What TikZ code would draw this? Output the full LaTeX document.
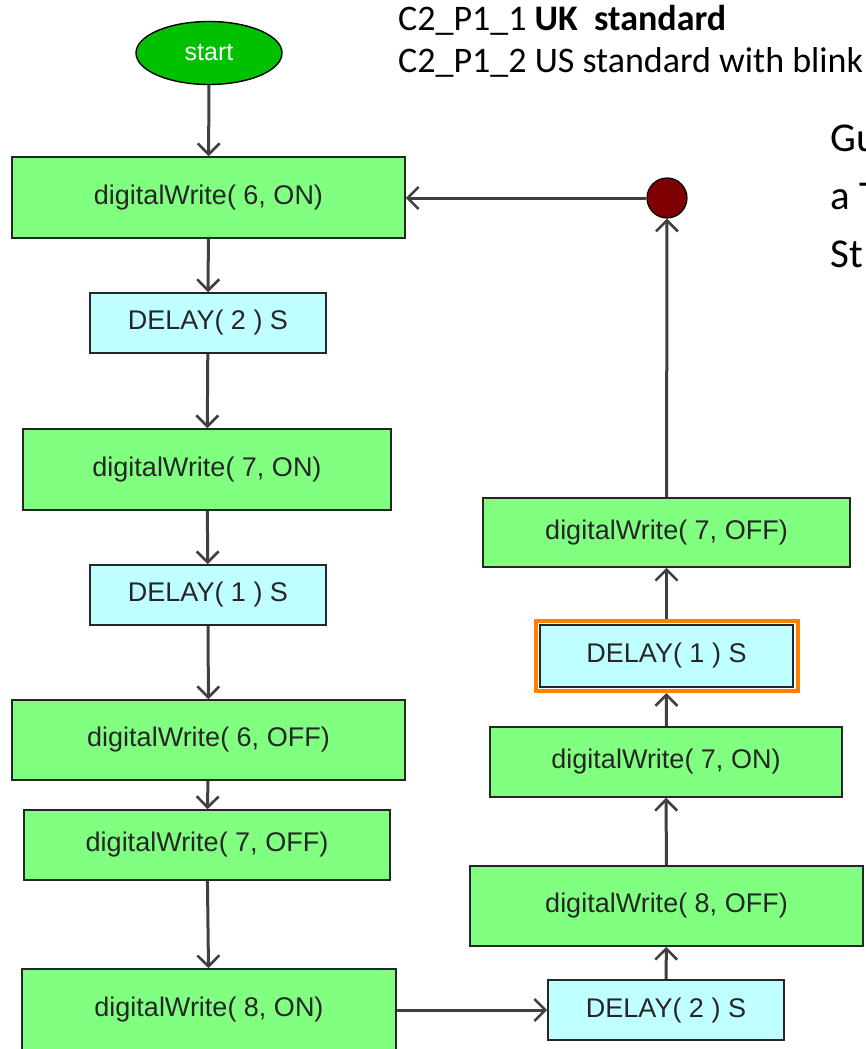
\documentclass[tikz,border=0pt]{standalone}
\usepackage{fontspec}
\setmainfont{Liberation Sans}
\newfontfamily\notefont{Carlito}
\usetikzlibrary{arrows.meta,shapes.geometric}

\definecolor{actgreen}{HTML}{80FF80}
\definecolor{delaycyan}{HTML}{C0FFFF}
\definecolor{startgreen}{HTML}{00C000}
\definecolor{joinred}{HTML}{7F0000}
\definecolor{wire}{HTML}{404040}
\definecolor{selorange}{HTML}{FF8000}

\tikzset{
  boxtext/.style={font=\fontsize{27}{30}\selectfont, text=black!85},
  actbox/.style={draw=black!85, line width=1.6pt, fill=actgreen, boxtext,
                 inner sep=0pt},
  delaybox/.style={draw=black!85, line width=1.6pt, fill=delaycyan, boxtext,
                   inner sep=0pt},
  startnode/.style={ellipse, draw=black, line width=1.4pt, fill=startgreen,
                    text=white, inner sep=0pt,
                    font=\fontsize{25}{28}\selectfont},
  joinnode/.style={circle, draw=black, line width=1.2pt, fill=joinred,
                   inner sep=0pt, minimum size=40pt},
  flow/.style={draw=wire, line width=3pt,
               -{Straight Barb[length=11pt, width=22pt, line width=2.6pt]}},
  note/.style={font=\notefont\fontsize{36}{43}\selectfont, anchor=base west,
               inner sep=0pt},
  bignote/.style={font=\notefont\fontsize{41}{47}\selectfont, anchor=base west,
                  inner sep=0pt},
}

\begin{document}
\begin{tikzpicture}[x=1pt, y=-1pt]
  \useasboundingbox (0,0) rectangle (865,1049);
  \clip (0,0) rectangle (865,1049);
  \fill[white] (0,0) rectangle (865,1049);

  % header notes
  \node[note] (n1) at (398,31) {C2\_P1\_1 \textbf{UK\ \ standard}};
  \node[note] (n2) at (398,73) {C2\_P1\_2 US standard with blink};
  \node[bignote] (g1) at (830,151) {Gu};
  \node[bignote] (g2) at (830,209) {a T};
  \node[bignote] (g3) at (830,267) {St};

  % left column
  \node[startnode, minimum width=146pt, minimum height=63pt] (start) at (209,53) {start};
  \node[actbox, minimum width=393pt, minimum height=81pt] (b1) at (208.5,197.5) {digitalWrite( 6, ON)};
  \node[delaybox, minimum width=236pt, minimum height=60pt] (d1) at (208,323) {DELAY( 2 ) S};
  \node[actbox, minimum width=368pt, minimum height=81pt] (b2) at (207,469.5) {digitalWrite( 7, ON)};
  \node[delaybox, minimum width=236pt, minimum height=60pt] (d2) at (208,595) {DELAY( 1 ) S};
  \node[actbox, minimum width=393pt, minimum height=80pt] (b3) at (208.5,740) {digitalWrite( 6, OFF)};
  \node[actbox, minimum width=366pt, minimum height=70pt] (b4) at (207,845) {digitalWrite( 7, OFF)};
  \node[actbox, minimum width=374pt, minimum height=82pt] (b5) at (209,1010) {digitalWrite( 8, ON)};

  % right column
  \node[delaybox, minimum width=236pt, minimum height=60pt] (d3) at (666,1010) {DELAY( 2 ) S};
  \node[actbox, minimum width=393pt, minimum height=80pt] (b6) at (666.5,906) {digitalWrite( 8, OFF)};
  \node[actbox, minimum width=352pt, minimum height=70pt] (b7) at (666,762) {digitalWrite( 7, ON)};
  \node[draw=selorange, line width=4pt, fill=white, minimum width=262pt,
        minimum height=70pt, inner sep=0pt] (sel) at (666.5,656) {};
  \node[delaybox, minimum width=253pt, minimum height=62pt] (d4) at (666.5,656) {DELAY( 1 ) S};
  \node[actbox, minimum width=367pt, minimum height=69pt] (b8) at (666.5,532.5) {digitalWrite( 7, OFF)};
  \node[joinnode] (join) at (667,198) {};

  % connectors
  \draw[flow] (start) -- (b1);
  \draw[flow] (b1) -- (d1);
  \draw[flow] (d1) -- (b2);
  \draw[flow] (b2) -- (d2);
  \draw[flow] (d2) -- (b3);
  \draw[flow] (b3) -- (b4);
  \draw[flow] (b4) -- (b5);
  \draw[flow] (b5.east |- d3.west) -- (d3.west);
  \draw[flow] (d3) -- (b6);
  \draw[flow] (b6) -- (b7);
  \draw[flow] (b7) -- (d4.south |- sel.south);
  \draw[flow] (d4.north |- sel.north) -- (b8);
  \draw[flow] (b8) -- (join);
  \draw[flow] (join) -- (join -| b1.east);
\end{tikzpicture}
\end{document}
